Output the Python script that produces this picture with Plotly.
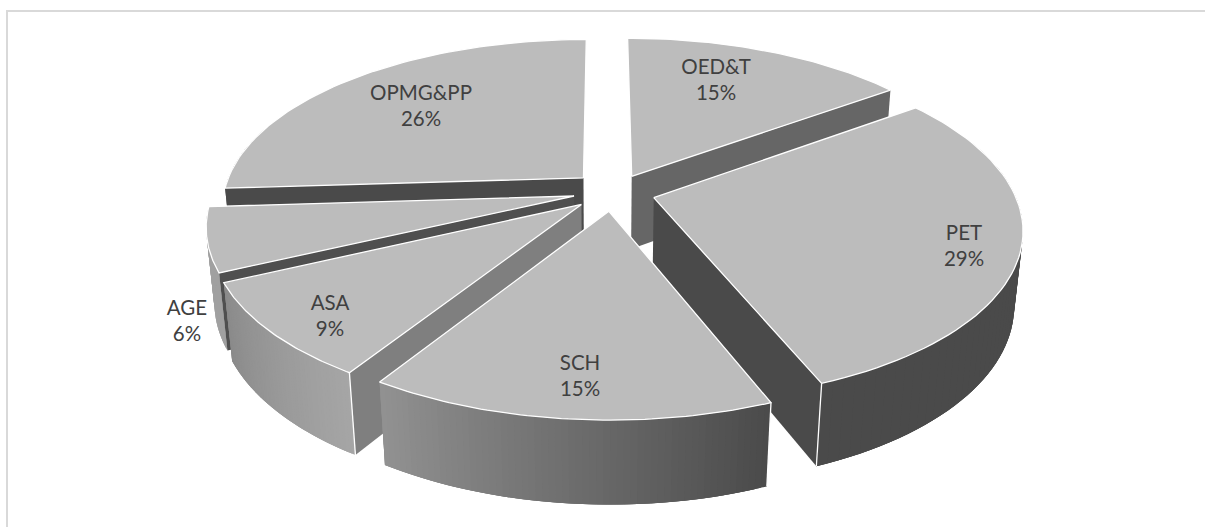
import numpy as np
import plotly.graph_objects as go

categories = ["OED&T", "PET", "SCH", "ASA", "AGE", "OPMG&PP"]
values = [15, 29, 15, 9, 6, 26]

# view and styling
W, H = 1205, 527
CX, CY = 603, 191
F, D, SIN, COS, DEPTH = 1893, 5.26, 0.461, 0.887, 0.235
explode = {"OED&T": (0.081, -0.09), "PET": (0.14, 0.04), "SCH": (0.016, 0.12),
           "ASA": (-0.059, 0.08), "AGE": (-0.08, 0.03), "OPMG&PP": (-0.055, -0.08)}
radius = 1.0
wall_start = {"OED&T": "#5f5f5f", "PET": "#4a4a4a", "SCH": "#4a4a4a", "ASA": "#7f7f7f",
              "AGE": "#4f4f4f", "OPMG&PP": "#4a4a4a"}
wall_end = {"OED&T": "#666666", "PET": "#4a4a4a", "SCH": "#7f7f7f", "ASA": "#555555",
            "AGE": "#4f4f4f", "OPMG&PP": "#4a4a4a"}
# outer wall gradient, by clockwise position in the slice
outer = {"OED&T": ("#5a5a5a", "#5a5a5a"), "PET": ("#4a4a4a", "#4a4a4a"),
         "SCH": ("#4a4a4a", "#929292"), "ASA": ("#a6a6a6", "#8a8a8a"),
         "AGE": ("#a0a0a0", "#a0a0a0"), "OPMG&PP": ("#4a4a4a", "#4a4a4a")}
label_pos = {"OED&T": (716, 82), "PET": (964, 248), "SCH": (580, 378),
             "ASA": (330, 318), "AGE": (187, 323), "OPMG&PP": (421, 108)}
draw_order = ["OPMG&PP", "OED&T", "AGE", "PET", "ASA", "SCH"]
TOP = "#bcbcbc"
TEXT = "#404040"


def project(u, v, z):
    u, v, z = np.asarray(u, float), np.asarray(v, float), np.asarray(z, float)
    depth = D - v * COS - z * SIN
    return CX + F * u / depth, CY + F * (v * SIN - z * COS) / depth


def rgb(c):
    return np.array([int(c[i:i + 2], 16) for i in (1, 3, 5)], float)


def mix(a, b, t):
    m = rgb(a) * (1 - t) + rgb(b) * t
    return "rgb(%d,%d,%d)" % tuple(m.round())


def poly(fig, x, y, fill, line=None, width=0.0):
    fig.add_trace(go.Scatter(x=list(x), y=list(y), mode="lines", fill="toself", fillcolor=fill,
                             line=dict(color=line or fill, width=width), hoverinfo="skip",
                             showlegend=False))


def edge(fig, x, y, width=1.3):
    fig.add_trace(go.Scatter(x=list(x), y=list(y), mode="lines", line=dict(color="white", width=width),
                             hoverinfo="skip", showlegend=False))


total = sum(values)
cum = np.cumsum([0] + values) / total * 2 * np.pi
spans = {c: (cum[i], cum[i + 1]) for i, c in enumerate(categories)}

fig = go.Figure()

for name in draw_order:
    a0, a1 = spans[name]
    ex, ev = explode[name]
    t = np.linspace(a0, a1, 61)
    u = ex + radius * np.sin(t)
    v = ev - radius * np.cos(t)
    xt, yt = project(u, v, 0 * u)
    xb, yb = project(u, v, 0 * u - DEPTH)
    # outer wall, in overlapping strips for the gradient; the back of the rim is never seen
    c0, c1 = outer[name]
    for i in range(60):
        j = min(i + 3, 60)
        if np.max(-np.cos(t[i:j + 1])) < -0.3:
            continue
        poly(fig, [*xt[i:j + 1], *xb[i:j + 1][::-1], xt[i]], [*yt[i:j + 1], *yb[i:j + 1][::-1], yt[i]],
             mix(c0, c1, (i + 0.5) / 60))
    # radial walls that face the viewer
    for ang, col, shown in ((a0, wall_start[name], -np.sin(a0) > 0), (a1, wall_end[name], np.sin(a1) > 0)):
        if not shown:
            continue
        uu = np.array([ex, ex + radius * np.sin(ang)])
        vv = np.array([ev, ev - radius * np.cos(ang)])
        xs, ys = project(uu, vv, 0 * uu)
        xd, yd = project(uu, vv, 0 * uu - DEPTH)
        poly(fig, [xs[0], xs[1], xd[1], xd[0], xs[0]], [ys[0], ys[1], yd[1], yd[0], ys[0]], col)
    # vertical corner lines where walls meet toward the viewer
    if name in ("PET", "SCH"):
        k = -1 if name == "PET" else 0
        edge(fig, [xt[k], xb[k]], [yt[k], yb[k]])
    if name == "ASA":
        edge(fig, [xt[0], xb[0]], [yt[0], yb[0]])
    # top face
    ax, ay = project(np.array([ex]), np.array([ev]), np.array([0.0]))
    px = [ax[0], *xt, ax[0]]
    py = [ay[0], *yt, ay[0]]
    poly(fig, px, py, TOP, line="white", width=1.3)

# labels
lab_x = [label_pos[c][0] for c in categories]
lab_y = [label_pos[c][1] for c in categories]
lab_t = [f"{c}<br>{round(val / total * 100)}%" for c, val in zip(categories, values)]
fig.add_trace(go.Scatter(x=lab_x, y=lab_y, mode="text", text=lab_t, textposition="middle center",
                         textfont=dict(family="Lato", size=20.5, color=TEXT), hoverinfo="skip",
                         showlegend=False))

fig.update_layout(
    width=W, height=H, margin=dict(l=0, r=0, t=0, b=0), paper_bgcolor="white", plot_bgcolor="white",
    showlegend=False,
    xaxis=dict(range=[0, W], visible=False, fixedrange=True),
    yaxis=dict(range=[H, 0], visible=False, fixedrange=True),
    shapes=[dict(type="rect", xref="x", yref="y", x0=7, y0=11, x1=1300, y1=600,
                 line=dict(color="#d9d9d9", width=2), layer="below")],
)
fig.write_html("out.html", config=dict(displayModeBar=False),
               post_script="document.body.style.margin='0';document.documentElement.style.overflow='hidden';")
